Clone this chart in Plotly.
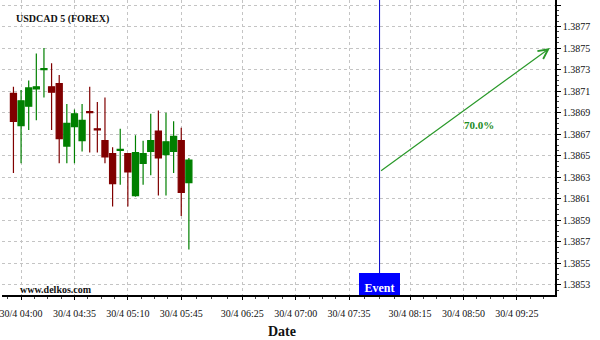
import plotly.graph_objects as go
import pandas as pd

# ---- data ----
times = ["2020-04-30 03:55", "2020-04-30 04:00", "2020-04-30 04:05", "2020-04-30 04:10",
         "2020-04-30 04:15", "2020-04-30 04:20", "2020-04-30 04:25", "2020-04-30 04:30",
         "2020-04-30 04:35", "2020-04-30 04:40", "2020-04-30 04:45", "2020-04-30 04:50",
         "2020-04-30 04:55", "2020-04-30 05:00", "2020-04-30 05:05", "2020-04-30 05:10",
         "2020-04-30 05:15", "2020-04-30 05:20", "2020-04-30 05:25", "2020-04-30 05:30",
         "2020-04-30 05:35", "2020-04-30 05:40", "2020-04-30 05:45", "2020-04-30 05:50"]
opens = [1.38708, 1.38678, 1.38696, 1.38712, 1.38730, 1.38714, 1.38717, 1.38659,
         1.38677, 1.38664, 1.38691, 1.38675, 1.38664, 1.38652, 1.38655, 1.38652,
         1.38613, 1.38643, 1.38654, 1.38673, 1.38651, 1.38654, 1.38664, 1.38625]
highs = [1.38714, 1.38711, 1.38720, 1.38745, 1.38750, 1.38736, 1.38725, 1.38698,
         1.38693, 1.38698, 1.38714, 1.38700, 1.38704, 1.38658, 1.38675, 1.38652,
         1.38669, 1.38664, 1.38689, 1.38692, 1.38690, 1.38682, 1.38676, 1.38648]
lows = [1.38634, 1.38643, 1.38674, 1.38683, 1.38704, 1.38674, 1.38643, 1.38643,
        1.38643, 1.38654, 1.38653, 1.38653, 1.38643, 1.38603, 1.38623, 1.38603,
        1.38612, 1.38623, 1.38632, 1.38613, 1.38613, 1.38634, 1.38594, 1.38563]
closes = [1.38682, 1.38701, 1.38713, 1.38714, 1.38731, 1.38709, 1.38666, 1.38680,
          1.38689, 1.38683, 1.38690, 1.38674, 1.38649, 1.38624, 1.38656, 1.38635,
          1.38653, 1.38652, 1.38664, 1.38648, 1.38663, 1.38668, 1.38616, 1.38646]

tick_times = ["2020-04-30 04:00", "2020-04-30 04:35", "2020-04-30 05:10", "2020-04-30 05:45",
              "2020-04-30 06:25", "2020-04-30 07:00", "2020-04-30 07:35", "2020-04-30 08:15",
              "2020-04-30 08:50", "2020-04-30 09:25"]
tick_labels = ["30/4 04:00", "30/4 04:35", "30/4 05:10", "30/4 05:45", "30/4 06:25",
               "30/4 07:00", "30/4 07:35", "30/4 08:15", "30/4 08:50", "30/4 09:25"]

event_time = "2020-04-30 07:55"
forecast_start = ("2020-04-30 07:55", 1.38635)
forecast_end = ("2020-04-30 09:46:40", 1.38750)
forecast_label = "70.0%"
forecast_label_pos = ("2020-04-30 09:00:20", 1.38679)

x_range = ["2020-04-30 03:47:30", "2020-04-30 09:50:00"]
y_range = [1.385207, 1.3879465]

SERIF = "Liberation Serif"
RED = "#800000"
GREEN = "#008000"
ARROW = "#2a992a"
GRID = "#c4c4c4"

# minor ticks: quarters between major ticks
tt = pd.to_datetime(tick_times)
minor = []
for a, b in zip(tt[:-1], tt[1:]):
    for k in range(1, 4):
        minor.append(a + (b - a) * k / 4)
step = (tt[1] - tt[0]) / 4
for k in range(1, 6):
    minor.append(tt[0] - step * k)
    minor.append(tt[-1] + step * k)
minor_str = [m.strftime("%Y-%m-%d %H:%M:%S") for m in minor]

fig = go.Figure()
fig.add_trace(go.Candlestick(
    x=times, open=opens, high=highs, low=lows, close=closes,
    increasing=dict(line=dict(color=GREEN, width=1.2), fillcolor=GREEN),
    decreasing=dict(line=dict(color=RED, width=1.2), fillcolor=RED),
    whiskerwidth=0, showlegend=False,
))

fig.update_layout(
    width=600, height=340,
    margin=dict(l=0, r=45, t=0, b=45),
    paper_bgcolor="white", plot_bgcolor="white",
    boxgap=0.2, boxgroupgap=0,
    showlegend=False,
    font=dict(family=SERIF, size=10, color="#111111"),
)

fig.update_xaxes(
    type="date", range=x_range,
    rangeslider=dict(visible=False),
    tickmode="array", tickvals=tick_times, ticktext=tick_labels,
    tickfont=dict(family=SERIF, size=10, color="#111111"),
    ticks="outside", ticklen=3, tickcolor="black",
    ticklabelstandoff=5, ticklabeloverflow="allow",
    showgrid=True, gridcolor=GRID, griddash="3px,3px", gridwidth=1,
    showline=True, linecolor="black", linewidth=1.5,
    minor=dict(tickmode="array", tickvals=minor_str, ticks="outside", ticklen=2,
               tickcolor="#444444", showgrid=False),
    zeroline=False,
)
fig.update_yaxes(
    range=y_range, side="right",
    tickmode="linear", tick0=1.3853, dtick=0.0002, tickformat=".4f",
    tickfont=dict(family=SERIF, size=10, color="#111111"),
    ticks="outside", ticklen=4, tickcolor="black",
    showgrid=True, gridcolor=GRID, griddash="3px,3px", gridwidth=1,
    showline=True, linecolor="black", linewidth=1.5,
    minor=dict(tick0=1.3853, dtick=0.00005, ticks="outside", ticklen=2,
               tickcolor="#444444", showgrid=False),
    zeroline=False,
)

# event line
fig.add_shape(type="line", xref="x", yref="paper", x0=event_time, x1=event_time,
              y0=0, y1=1, line=dict(color="#0000c8", width=1))

# forecast arrow
fig.add_annotation(
    x=forecast_end[0], y=forecast_end[1], ax=forecast_start[0], ay=forecast_start[1],
    xref="x", yref="y", axref="x", ayref="y", text="", showarrow=True,
    arrowhead=5, arrowsize=1.6, arrowwidth=1.2, arrowcolor=ARROW,
)
fig.add_annotation(
    x=forecast_label_pos[0], y=forecast_label_pos[1], xref="x", yref="y",
    text="<b>" + forecast_label + "</b>", showarrow=False,
    font=dict(family=SERIF, size=11, color="#228b22"),
)

# Event box
fig.add_annotation(
    x=event_time, y=0, xref="x", yref="paper", xanchor="center", yanchor="bottom",
    text="<b>Event</b>", showarrow=False, bgcolor="#0000ff",
    width=41, height=22, borderpad=0, borderwidth=0, valign="bottom",
    font=dict(family=SERIF, size=12, color="white"),
)

# title, watermark, axis title
fig.add_annotation(x=12 / 555, y=1 - 19.5 / 295, xref="paper", yref="paper",
                   xanchor="left", yanchor="middle", showarrow=False,
                   text="<b>USDCAD 5 (FOREX)</b>",
                   font=dict(family=SERIF, size=10, color="#111111"))
fig.add_annotation(x=16 / 555, y=(295 - 289.5) / 295, xref="paper", yref="paper",
                   xanchor="left", yanchor="middle", showarrow=False,
                   text="<b>www.delkos.com</b>",
                   font=dict(family=SERIF, size=10, color="#111111"))
fig.add_annotation(x=281 / 555, y=-(331 - 295) / 295, xref="paper", yref="paper",
                   xanchor="center", yanchor="middle", showarrow=False,
                   text="<b>Date</b>",
                   font=dict(family=SERIF, size=14, color="#111111"))

fig.write_html("out.html")
